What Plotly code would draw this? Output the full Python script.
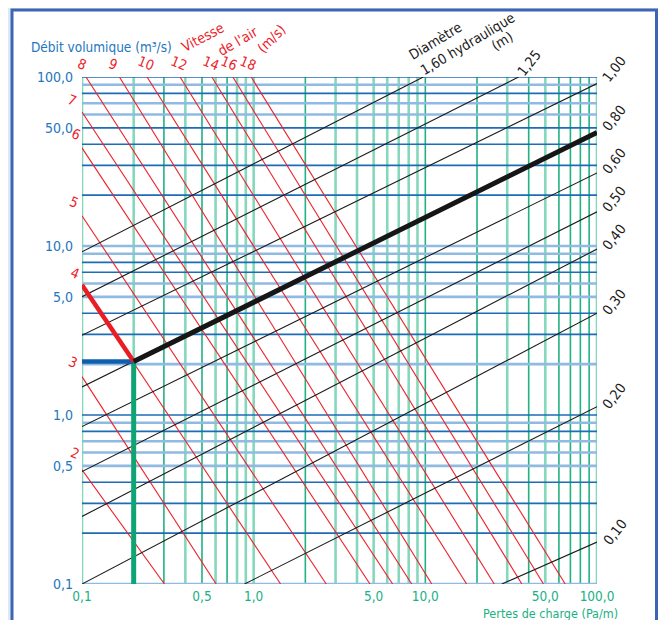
import plotly.graph_objects as go

# ---------------- data ----------------
tick_vals = [0.1, 0.5, 1, 5, 10, 50, 100]
x_tick_text = ["0,1", "0,5", "1,0", "5,0", "10,0", "50,0", "100,0"]
y_tick_text = ["0,1", "0,5", "1,0", "5,0", "10,0", "50,0", "100,0"]

grid_vals = [0.1, 0.2, 0.3, 0.4, 0.5, 0.6, 0.7, 0.8, 0.9,
             1, 2, 3, 4, 5, 6, 7, 8, 9,
             10, 20, 30, 40, 50, 60, 70, 80, 90, 100]
# 1 = strong grid line, 0 = pale grid line
vgrid_strong = [0, 0, 1, 0, 1, 0, 1, 0, 0, 0, 1, 0, 0, 0, 0, 0, 0, 0, 1, 1, 0, 1, 0, 1, 1, 1, 1, 0]
hgrid_strong = [0, 1, 1, 1, 0, 0, 0, 1, 0, 1, 0, 1, 1, 0, 0, 1, 1, 0, 0, 1, 1, 1, 1, 0, 0, 1, 0, 1]

# air velocity lines (m/s): start / end points (Pa/m, m3/s)
velocity_labels = ["2", "3", "4", "5", "6", "7", "8", "9", "10", "12", "14", "16", "18"]
velocity_start_dp = [0.1, 0.1, 0.1, 0.1, 0.1, 0.1, 0.1055, 0.1652, 0.2393, 0.3727, 0.5706, 0.7563, 0.967]
velocity_start_q = [0.4737, 1.687, 5.873, 15.09, 38.05, 62.1, 100, 100, 100, 100, 100, 100, 100]
velocity_end_dp = [0.3022, 0.6044, 1.435, 2.646, 4.76, 6.45, 8.33, 10.9, 17.4, 25.2, 36.5, 48.8, 65.3]
velocity_end_q = [0.1, 0.1, 0.1, 0.1, 0.1, 0.1, 0.1, 0.1, 0.1, 0.1, 0.1, 0.1, 0.1]

# hydraulic diameter lines (m)
diam_labels = ["1,60", "1,25", "1,00", "0,80", "0,60", "0,50", "0,40", "0,30", "0,20", "0,10"]
diam_start_dp = [0.1, 0.1, 0.1, 0.1, 0.1, 0.1, 0.1, 0.1, 0.885, 27.9]
diam_start_q = [9.24, 5.01, 2.96, 1.466, 0.854, 0.463, 0.2509, 0.1, 0.1, 0.1]
diam_end_dp = [9.73, 34.9, 100, 100, 100, 100, 100, 100, 100, 100]
diam_end_q = [100, 100, 91.4, 46.9, 27.07, 15.93, 9.59, 4.0, 1.121, 0.177]

# worked example
example_dp = 0.2           # Pa/m
example_q = 2.07           # m3/s
example_v_start_q = 5.873  # velocity line 4 m/s at 0.1 Pa/m
example_d_end_q = 46.9     # diameter 0,80 line at 100 Pa/m

AX_MIN, AX_MAX = 0.1, 100

# ---------------- styling ----------------
FONT = "Liberation Sans Narrow, DejaVu Sans Condensed, Arial Narrow, sans-serif"
RED = "#ec2229"
BLUE = "#2476c0"
GREEN = "#19b083"
BLACK = "#1b1b1b"

# page has an 8px body margin: figure occupies screen 8..658 x 8..620
OFF = 8
W, H = 650, 612
L, T = 74, 69
PW, PH = 515, 507
R, B = W - L - PW, H - T - PH

# screen coordinates of plot area
SX0 = OFF + L
SY1 = OFF + T + PH


def px(x):
    return (x - SX0) / PW


def py(y):
    return (SY1 - y) / PH


fig = go.Figure()


def segs(x0s, y0s, x1s, y1s):
    xs, ys = [], []
    for a, b, c, d in zip(x0s, y0s, x1s, y1s):
        xs += [a, c, None]
        ys += [b, d, None]
    return xs, ys


def add_lines(xs, ys, color, width):
    fig.add_trace(go.Scatter(x=xs, y=ys, mode="lines", line=dict(color=color, width=width),
                             hoverinfo="skip", showlegend=False))


# vertical grid (green)
for strong, color, width in [(0, "#86d8bd", 2.6), (1, "#22b184", 1.6)]:
    vals = [v for v, s in zip(grid_vals, vgrid_strong) if s == strong]
    xs, ys = segs(vals, [AX_MIN] * len(vals), vals, [AX_MAX] * len(vals))
    add_lines(xs, ys, color, width)

# horizontal grid (blue)
for strong, color, width in [(0, "#8fbae2", 2.6), (1, "#1c6db6", 1.6)]:
    vals = [v for v, s in zip(grid_vals, hgrid_strong) if s == strong]
    xs, ys = segs([AX_MIN] * len(vals), vals, [AX_MAX] * len(vals), vals)
    add_lines(xs, ys, color, width)

# velocity lines
xs, ys = segs(velocity_start_dp, velocity_start_q, velocity_end_dp, velocity_end_q)
add_lines(xs, ys, RED, 1.1)

# diameter lines
xs, ys = segs(diam_start_dp, diam_start_q, diam_end_dp, diam_end_q)
add_lines(xs, ys, BLACK, 1.1)

# worked example
add_lines([example_dp, example_dp], [AX_MIN, example_q], "#0fa474", 5)
add_lines([AX_MIN, example_dp], [example_q, example_q], "#0f5fae", 4.5)
add_lines([AX_MIN, example_dp], [example_v_start_q, example_q], "#ea1c24", 4.5)
add_lines([example_dp, AX_MAX], [example_q, example_d_end_q], "#161616", 5)

# ---------------- annotations ----------------
ann = []


def text(t, x, y, color, size=14, angle=0, xanchor="center"):
    ann.append(dict(text=t, x=px(x), y=py(y), xref="paper", yref="paper", showarrow=False,
                    font=dict(family=FONT, size=size, color=color), textangle=angle,
                    xanchor=xanchor, yanchor="middle"))


text("Débit volumique (m³/s)", 29, 47, BLUE, 13.5, 0, "left")
text("Pertes de charge (Pa/m)", 550, 613, GREEN, 12.5)

# velocity labels
vel_label_pos = [(75, 453), (73, 362), (75, 273), (74, 202), (76, 134), (72, 100),
                 (82, 64), (113, 64), (146, 63), (179, 63), (211, 63), (229, 63), (248, 63)]
for lab, (x, y) in zip(velocity_labels, vel_label_pos):
    text(lab, x, y, RED, 14, 22)
text("Vitesse", 203, 37, RED, 14, -28)
text("de l'air", 238, 41, RED, 14, -30)
text("(m/s)", 271, 39, RED, 14, -45)

# diameter labels
diam_label_pos = [None, (529, 63), (614, 69), (614, 118), (614, 161), (614, 199),
                  (614, 237), (614, 302), (614, 396), (615, 532)]
for lab, pos in zip(diam_labels, diam_label_pos):
    if pos is not None:
        text(lab, pos[0], pos[1], BLACK, 14, -52)
text("Diamètre", 435, 41, BLACK, 14, -31)
text("1,60 hydraulique", 467, 44, BLACK, 14, -31)
text("(m)", 502, 41, BLACK, 14, -31)

fig.update_layout(
    width=W, height=H,
    margin=dict(l=L, r=R, t=T, b=B, pad=0),
    paper_bgcolor="#dde9f5",
    plot_bgcolor="white",
    showlegend=False,
    annotations=ann,
    shapes=[dict(type="rect", xref="paper", yref="paper",
                 x0=px(12), x1=px(656.5), y0=py(640), y1=py(10),
                 fillcolor="white", line=dict(color="#3d65b4", width=3), layer="below")],
    xaxis=dict(type="log", range=[-1, 2], showgrid=False, zeroline=False, showline=False,
               tickvals=tick_vals, ticktext=x_tick_text, ticks="",
               tickfont=dict(family=FONT, size=13.5, color=GREEN), ticklabelstandoff=2),
    yaxis=dict(type="log", range=[-1, 2], showgrid=False, zeroline=False, showline=False,
               tickvals=tick_vals, ticktext=y_tick_text, ticks="",
               tickfont=dict(family=FONT, size=14, color=BLUE), ticklabelstandoff=8),
)

fig.write_html("out.html")
